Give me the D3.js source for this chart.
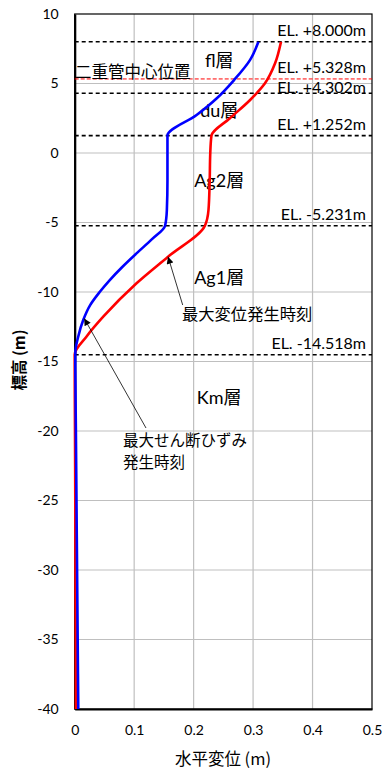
<!DOCTYPE html>
<html>
<head>
<meta charset="utf-8">
<script src="https://cdn.jsdelivr.net/npm/d3@7"></script>
<style>
  html, body { margin: 0; padding: 0; background: #fff; }
  svg { display: block; }
  text { font-family: Lato, "Noto Sans CJK JP", sans-serif; }
  .jp { font-family: "Noto Sans CJK JP", sans-serif; }
</style>
</head>
<body>
<svg id="chart" width="384" height="772"></svg>
<script>
// Horizontal displacement profile (elevation in m, displacement in m)
const xTicks = [0, 0.1, 0.2, 0.3, 0.4, 0.5];
const yTicks = [10, 5, 0, -5, -10, -15, -20, -25, -30, -35, -40];

// Time of maximum shear strain (blue)
const strainElev = [8.0, 6.7, 5.25, 3.94, 2.73, 1.252, 0.0, -2.0, -4.1, -5.231, -6.2, -7.22, -8.2, -9.14, -10.0, -10.94, -12.0, -13.2, -14.4, -15.0, -20.0, -25.0, -30.0, -35.0, -40.0];
const strainDisp = [0.309, 0.295, 0.268, 0.239, 0.205, 0.156, 0.156, 0.156, 0.155, 0.152, 0.130, 0.104, 0.080, 0.059, 0.042, 0.026, 0.0145, 0.006, 0.001, 0.001, 0.002, 0.003, 0.004, 0.005, 0.006];

// Time of maximum displacement (red)
const dispElev = [8.0, 6.45, 5.01, 3.81, 2.5, 1.252, 0.0, -2.0, -4.1, -5.231, -7.46, -9.37, -11.78, -13.2, -14.5, -20.0, -25.0, -30.0, -35.0, -40.0];
const dispDisp = [0.347, 0.337, 0.320, 0.295, 0.261, 0.230, 0.228, 0.227, 0.225, 0.219, 0.157, 0.104, 0.048, 0.020, 0.0, 0.0005, 0.001, 0.0013, 0.0017, 0.002];

// Layer boundaries and labels
const boundaryElev = [8.0, 4.302, 1.252, -5.231, -14.518];
const elLabelElev = [8.0, 5.328, 4.302, 1.252, -5.231, -14.518];
const elLabelText = ["EL. +8.000m", "EL. +5.328m", "EL. +4.302m", "EL. +1.252m", "EL. -5.231m", "EL. -14.518m"];
const pipeCenterElev = 5.328;
const layerNames = ["fl層", "du層", "Ag2層", "Ag1層", "Km層"];
const layerLabelPos = [[0.243, 6.55], [0.243, 2.9], [0.243, -2.15], [0.243, -9.1], [0.243, -17.7]];

const svg = d3.select("#chart");
const margin = { left: 74.7, right: 12, top: 14, bottom: 63 };
const W = 384, H = 772;

const x = d3.scaleLinear().domain([0, 0.5]).range([margin.left, W - margin.right]);
const y = d3.scaleLinear().domain([-40, 10]).range([H - margin.bottom, margin.top]);

// Grid
const grid = svg.append("g").attr("stroke", "#bfbfbf").attr("stroke-width", 1.2);
grid.selectAll("line.v").data(xTicks.slice(1, -1)).join("line")
  .attr("x1", d => x(d)).attr("x2", d => x(d))
  .attr("y1", y(10)).attr("y2", y(-40));
grid.selectAll("line.h").data(yTicks.slice(1, -1)).join("line")
  .attr("x1", x(0)).attr("x2", x(0.5))
  .attr("y1", d => y(d)).attr("y2", d => y(d));

// Frame
svg.append("rect")
  .attr("x", x(0)).attr("y", y(10))
  .attr("width", x(0.5) - x(0)).attr("height", y(-40) - y(10))
  .attr("fill", "none").attr("stroke", "#000").attr("stroke-width", 1.2);

// Axes
const yAxis = d3.axisLeft(y).tickValues(yTicks).tickSize(0).tickPadding(16).tickFormat(d => String(d));
const gy = svg.append("g").attr("transform", `translate(${x(0)},0)`).call(yAxis);
gy.select(".domain").attr("stroke", "#000").attr("stroke-width", 2.2);
gy.selectAll("text").attr("font-size", 14).attr("fill", "#000").attr("font-family", "Lato, sans-serif");

const xAxis = d3.axisBottom(x).tickValues(xTicks).tickSize(0).tickPadding(16)
  .tickFormat(d => d === 0 ? "0" : d3.format(".1f")(d));
const gx = svg.append("g").attr("transform", `translate(0,${y(-40)})`).call(xAxis);
gx.select(".domain").attr("stroke", "#000").attr("stroke-width", 2.2);
gx.selectAll("text").attr("font-size", 14).attr("fill", "#000").attr("font-family", "Lato, sans-serif");

// Axis titles
svg.append("text").attr("class", "jp")
  .attr("x", 223).attr("y", 765).attr("text-anchor", "middle")
  .attr("font-size", 16.5).text("水平変位 (m)");
svg.append("text").attr("class", "jp")
  .attr("transform", "translate(25,360) rotate(-90)")
  .attr("text-anchor", "middle").attr("font-size", 15.5).attr("font-weight", "bold")
  .text("標高 (m)");

// Layer boundaries
svg.append("g").selectAll("line").data(boundaryElev).join("line")
  .attr("x1", x(0)).attr("x2", x(0.5))
  .attr("y1", d => y(d)).attr("y2", d => y(d))
  .attr("stroke", "#000").attr("stroke-width", 1.6).attr("stroke-dasharray", "4,3");

// Pipe centre line
svg.append("line")
  .attr("x1", x(0)).attr("x2", x(0.5))
  .attr("y1", y(pipeCenterElev)).attr("y2", y(pipeCenterElev))
  .attr("stroke", "#ff0000").attr("stroke-width", 1).attr("stroke-dasharray", "4,2");

// Elevation labels (the +4.302 label sits on its line, the rest just above)
svg.append("g").selectAll("text").data(elLabelElev).join("text")
  .attr("x", 366).attr("y", d => y(d) + (d === 4.302 ? 0 : -5.5))
  .attr("text-anchor", "end").attr("font-size", 16)
  .attr("font-family", "Lato, sans-serif")
  .text((d, i) => elLabelText[i]);

svg.append("text").attr("class", "jp")
  .attr("x", 75).attr("y", 77.5).attr("font-size", 16.5)
  .text("二重管中心位置");

// Layer names
svg.append("g").selectAll("text").data(layerNames).join("text")
  .attr("x", (d, i) => x(layerLabelPos[i][0]))
  .attr("y", (d, i) => y(layerLabelPos[i][1]))
  .attr("text-anchor", "middle").attr("dominant-baseline", "middle")
  .attr("font-size", 18)
  .text(d => d);

// Profiles
const line = d3.line().x(d => x(d[0])).y(d => y(d[1])).curve(d3.curveMonotoneY);
const dispPts = dispDisp.map((v, i) => [v, dispElev[i]]);
const strainPts = strainDisp.map((v, i) => [v, strainElev[i]]);

svg.append("path").datum(dispPts).attr("d", line)
  .attr("fill", "none").attr("stroke", "#ff0000").attr("stroke-width", 2.6);
svg.append("path").datum(strainPts).attr("d", line)
  .attr("fill", "none").attr("stroke", "#0000ff").attr("stroke-width", 2.6);

// Annotations
const defs = svg.append("defs");
defs.append("marker").attr("id", "arr").attr("viewBox", "0 0 10 10")
  .attr("refX", 10).attr("refY", 5).attr("markerWidth", 9).attr("markerHeight", 7)
  .attr("markerUnits", "userSpaceOnUse").attr("orient", "auto")
  .append("path").attr("d", "M0,0 L10,5 L0,10 Z").attr("fill", "#000");

svg.append("line")
  .attr("x1", 182.7).attr("y1", 305)
  .attr("x2", x(0.157)).attr("y2", y(-7.46))
  .attr("stroke", "#000").attr("stroke-width", 0.8).attr("marker-end", "url(#arr)");
svg.append("text").attr("class", "jp")
  .attr("x", 182).attr("y", 319.5).attr("font-size", 16.3)
  .text("最大変位発生時刻");

svg.append("line")
  .attr("x1", 146).attr("y1", 428)
  .attr("x2", x(0.016)).attr("y2", y(-11.9))
  .attr("stroke", "#000").attr("stroke-width", 0.8).attr("marker-end", "url(#arr)");
svg.append("text").attr("class", "jp")
  .attr("x", 123).attr("y", 446).attr("font-size", 15.5)
  .text("最大せん断ひずみ");
svg.append("text").attr("class", "jp")
  .attr("x", 123).attr("y", 468).attr("font-size", 15.5)
  .text("発生時刻");
</script>
</body>
</html>
